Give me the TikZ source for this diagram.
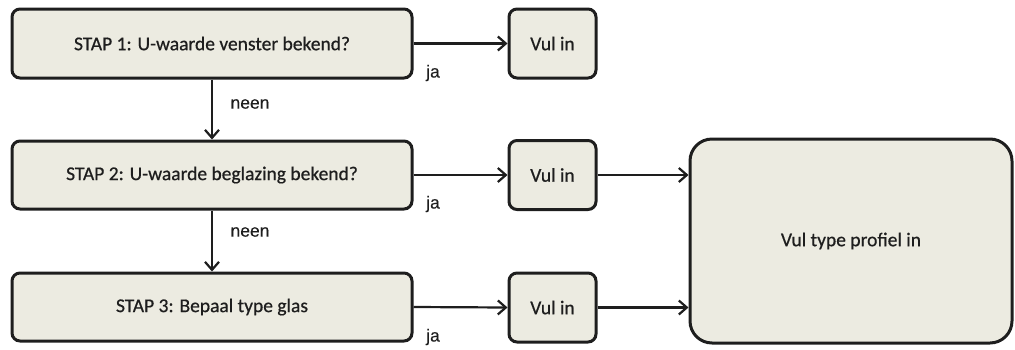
\documentclass[tikz,border=0pt]{standalone}
\usepackage{fontspec}
\setmainfont{Carlito}
\newfontfamily\boxfont[FakeBold=0.6]{Carlito}
\newfontfamily\labfont[FakeBold=0.3]{Liberation Sans}
\usetikzlibrary{arrows.meta}
\definecolor{boxfill}{HTML}{ECEBE1}
\definecolor{ink}{HTML}{1E1E1E}
\tikzset{
  stepbox/.style={draw=ink, line width=3pt, fill=boxfill, rounded corners=8pt, inner sep=0pt, font=\boxfont\fontsize{19.5}{22}\selectfont, text=ink},
  smallbox/.style={stepbox, minimum width=87pt, minimum height=69pt},
  bigbox/.style={stepbox, rounded corners=22pt},
  conn/.style={draw=ink, line width=2.2pt, -{Straight Barb[length=8pt,width=14pt,line width=2.2pt]}},
  lab/.style={font=\labfont\fontsize{17.5}{20}\selectfont, text=ink, inner sep=0pt}
}
\begin{document}
\begin{tikzpicture}[x=1pt,y=-1pt]
\useasboundingbox (0,0) rectangle (1015,349);
\node[stepbox, minimum width=400pt, minimum height=69pt] (s1) at (212,43.5) {STAP 1: U-waarde venster bekend?};
\node[stepbox, minimum width=400pt, minimum height=68pt] (s2) at (212,175) {STAP 2: U-waarde beglazing bekend?};
\node[stepbox, minimum width=400pt, minimum height=68pt] (s3) at (212,307) {STAP 3: Bepaal type glas};
\node[smallbox] (v1) at (552.5,43.5) {Vul in};
\node[smallbox] (v2) at (552.5,175) {Vul in};
\node[smallbox] (v3) at (552.5,307.5) {Vul in};
\node[bigbox, minimum width=322pt, minimum height=204pt] (big) at (851,241) {Vul type profiel in};
\draw[conn] (s1.east) -- (v1.west);
\draw[conn] (s2.east) -- (v2.west);
\draw[conn] (s3.east) -- (v3.west);
\draw[conn] (v2.east) -- (v2.east -| big.west);
\draw[conn] (v3.east) -- (v3.east -| big.west);
\draw[conn] (s1.south) -- (s2.north);
\draw[conn] (s2.south) -- (s3.north);
\node[lab] (j1) at (433,73) {ja};
\node[lab] (j2) at (433,204) {ja};
\node[lab] (j3) at (433,337) {ja};
\node[lab] (n1) at (250,104) {neen};
\node[lab] (n2) at (250,232) {neen};
\end{tikzpicture}
\end{document}
